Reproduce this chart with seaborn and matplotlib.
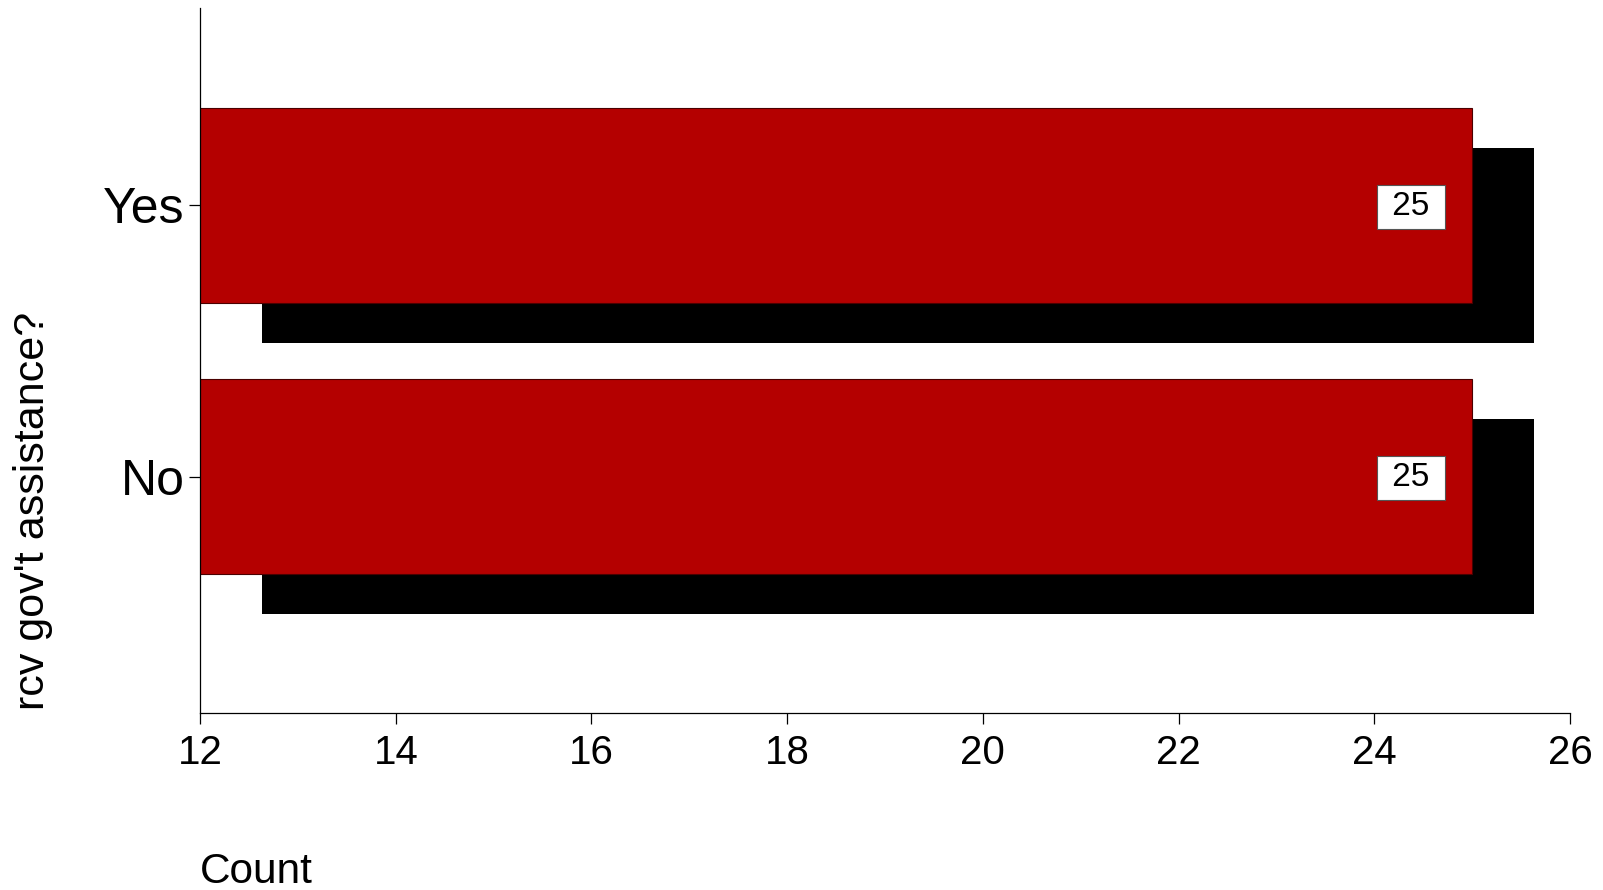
import matplotlib
matplotlib.use("Agg")
import matplotlib.pyplot as plt
import matplotlib.transforms as mtransforms
import seaborn as sns
import pandas as pd

categories = ["Yes", "No"]
counts = [25, 25]
x_ticks = [12, 14, 16, 18, 20, 22, 24, 26]

sns.set_style("ticks")
plt.rcParams["font.family"] = ["Liberation Sans", "DejaVu Sans"]
plt.rcParams["text.color"] = "black"
plt.rcParams["axes.labelcolor"] = "black"

df = pd.DataFrame({"assist": categories, "count": counts})

fig = plt.figure(figsize=(16.03, 8.90), dpi=100)
ax = fig.add_axes([0.1248, 0.1989, 0.8546, 0.7921])

xmin, xmax = x_ticks[0], x_ticks[-1]

# shadow bars
sns.barplot(data=df, y="assist", x="count", order=categories, color="black",
            width=0.72, orient="h", ax=ax, saturation=1, linewidth=0)
shadow = list(ax.patches)
off = mtransforms.ScaledTranslation(0.615, -0.40, fig.dpi_scale_trans)
for p in shadow:
    w = p.get_width()
    p.set_x(xmin)
    p.set_width(w - xmin)
    p.set_transform(ax.transData + off)

# main bars
sns.barplot(data=df, y="assist", x="count", order=categories, color="#B40000",
            width=0.72, orient="h", ax=ax, saturation=1,
            edgecolor="#4a0000", linewidth=0.8)

for i, (cat, val) in enumerate(zip(categories, counts)):
    ax.annotate(f" {val} ", xy=(val, i), xytext=(-44, -1), textcoords="offset points",
                ha="center", va="center", fontsize=24, color="black",
                bbox=dict(boxstyle="square,pad=0.2", fc="white", ec="#555555", lw=0.8),
                zorder=5)

ax.set_xlim(xmin, xmax)
ax.set_xticks(x_ticks)
ax.set_ylim(1.872, -0.728)

for s in ["top", "right"]:
    ax.spines[s].set_visible(False)
for s in ["left", "bottom"]:
    ax.spines[s].set_linewidth(0.9)
    ax.spines[s].set_color("black")

ax.tick_params(axis="both", direction="out", length=8, width=0.9, color="black",
               labelcolor="black")
ax.tick_params(axis="x", labelsize=29, pad=7)
ax.tick_params(axis="y", labelsize=36, pad=3)

ax.set_xlabel("Count", fontsize=30.5, loc="left", labelpad=58, color="black")
ax.set_ylabel("rcv gov't assistance?", fontsize=31, loc="bottom", color="black")
ax.yaxis.set_label_coords(-0.107, 0.004)

fig.savefig("out.png", dpi=100)
